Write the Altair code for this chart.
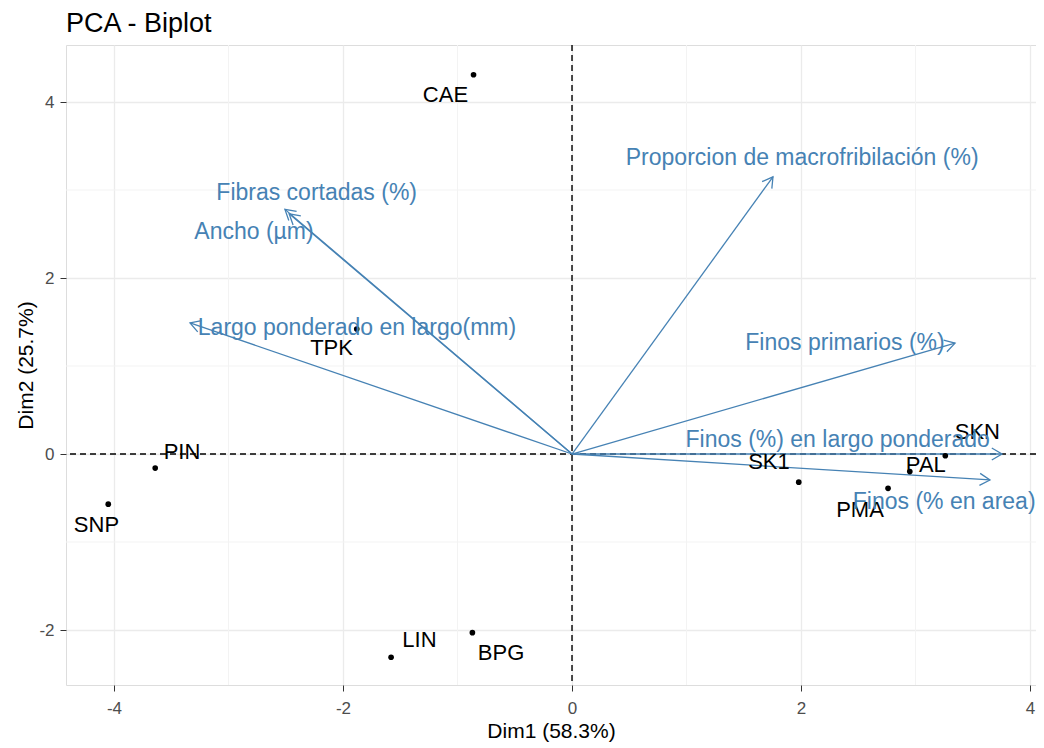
import math
import altair as alt
import pandas as pd

# ---- data ----
ind_names = ["CAE", "TPK", "PIN", "SNP", "LIN", "BPG", "SK1", "PMA", "PAL", "SKN"]
ind_x = [-0.86, -1.88, -3.64, -4.05, -1.58, -0.87, 1.98, 2.76, 2.95, 3.26]
ind_y = [4.31, 1.42, -0.16, -0.57, -2.31, -2.03, -0.32, -0.39, -0.20, -0.02]
ind_label_x = [-1.105, -2.10, -3.406, -4.153, -1.332, -0.62, 1.72, 2.515, 3.09, 3.54]
ind_label_y = [4.08, 1.21, 0.02, -0.81, -2.11, -2.26, -0.09, -0.64, -0.125, 0.25]

var_names = [
    "Proporcion de macrofribilación (%)",
    "Fibras cortadas (%)",
    "Ancho (µm)",
    "Largo ponderado en largo(mm)",
    "Finos primarios (%)",
    "Finos (%) en largo ponderado",
    "Finos (% en area)",
]
var_x = [1.755, -2.507, -2.47, -3.336, 3.345, 3.755, 3.65]
var_y = [3.15, 2.78, 2.73, 1.49, 1.26, 0.0, -0.295]
var_label_x = [2.01, -2.23, -2.777, -1.878, 2.384, 2.32, 3.25]
var_label_y = [3.36, 2.97, 2.52, 1.43, 1.26, 0.16, -0.545]

x_ticks = [-4, -2, 0, 2, 4]
y_ticks = [-2, 0, 2, 4]
x_minor = [-3, -1, 1, 3]
y_minor = [-1, 1, 3]

# ---- layout ----
W, H = 970, 640
X_DOM = [-4.419, 4.052]
Y_DOM = [-2.625, 4.648]
FONT = "Liberation Sans"
BLUE = "#4682B4"

px_x = W / (X_DOM[1] - X_DOM[0])
px_y = H / (Y_DOM[1] - Y_DOM[0])

ind = pd.DataFrame({"name": ind_names, "x": ind_x, "y": ind_y,
                    "lx": ind_label_x, "ly": ind_label_y})
var = pd.DataFrame({"name": var_names, "x": var_x, "y": var_y,
                    "lx": var_label_x, "ly": var_label_y})
var["x0"] = 0.0
var["y0"] = 0.0
var["ang"] = [
    (math.degrees(math.atan2(-vy * px_y, vx * px_x)) + 360) % 360
    for vx, vy in zip(var_x, var_y)
]

xs = alt.Scale(domain=X_DOM, nice=False, zero=False)
ys = alt.Scale(domain=Y_DOM, nice=False, zero=False)

axis_common = dict(
    grid=True, gridColor="#EBEBEB", gridWidth=1.3,
    domain=False, ticks=True, tickColor="#333333", tickSize=6,
    labelColor="#4D4D4D", labelFont=FONT, labelFontSize=17,
    labelExpr="'' + datum.value",
    titleFont=FONT, titleFontSize=21, titleFontWeight="normal", titleColor="black",
)
x_axis = alt.Axis(values=x_ticks, labelPadding=9, titlePadding=4, **axis_common)
y_axis = alt.Axis(values=y_ticks, labelPadding=6, titlePadding=2, **axis_common)
X_TITLE = "Dim1 (58.3%)"
Y_TITLE = "Dim2 (25.7%)"


def X(field):
    return alt.X(field, scale=xs, axis=x_axis, title=X_TITLE)


def Y(field):
    return alt.Y(field, scale=ys, axis=y_axis, title=Y_TITLE)


minor_x = alt.Chart(pd.DataFrame({"v": x_minor})).mark_rule(
    color="#F3F3F3", strokeWidth=1
).encode(x=X("v:Q"))
minor_y = alt.Chart(pd.DataFrame({"v": y_minor})).mark_rule(
    color="#F3F3F3", strokeWidth=1
).encode(y=Y("v:Q"))

zero_x = alt.Chart(pd.DataFrame({"v": [0]})).mark_rule(
    color="black", strokeWidth=1.4, strokeDash=[6, 4]
).encode(x=X("v:Q"))
zero_y = alt.Chart(pd.DataFrame({"v": [0]})).mark_rule(
    color="black", strokeWidth=1.4, strokeDash=[6, 4]
).encode(y=Y("v:Q"))

arrows = alt.Chart(var).mark_rule(color=BLUE, strokeWidth=1.3).encode(
    x=X("x0:Q"),
    y=Y("y0:Q"),
    x2="x:Q",
    y2="y:Q",
)

heads = alt.Chart(var).mark_point(
    shape="M -1.7 -1 L 0 0 L -1.7 1", filled=False, stroke=BLUE,
    strokeWidth=1.3, size=144, opacity=1,
).encode(
    x=X("x:Q"),
    y=Y("y:Q"),
    angle=alt.Angle("ang:Q", scale=None),
)

points = alt.Chart(ind).mark_circle(color="black", size=32, opacity=1).encode(
    x=X("x:Q"),
    y=Y("y:Q"),
)

ind_text = alt.Chart(ind).mark_text(
    font=FONT, fontSize=22, color="black", align="center", baseline="middle"
).encode(
    x=X("lx:Q"),
    y=Y("ly:Q"),
    text="name:N",
)

var_text = alt.Chart(var).mark_text(
    font=FONT, fontSize=23, color=BLUE, align="center", baseline="middle"
).encode(
    x=X("lx:Q"),
    y=Y("ly:Q"),
    text="name:N",
)

chart = alt.layer(
    minor_x, minor_y, zero_x, zero_y, arrows, heads, points, ind_text, var_text
).properties(
    width=W, height=H,
    title=alt.TitleParams("PCA - Biplot", anchor="start", frame="group",
                          font=FONT, fontSize=27, fontWeight="normal",
                          color="black", offset=6),
    autosize=alt.AutoSizeParams(type="none"),
    padding={"left": 58, "top": 37, "right": 0, "bottom": 62},
).configure_view(strokeWidth=0).configure(background="white")

chart.save("out.html", embed_options={"renderer": "svg", "actions": False})
